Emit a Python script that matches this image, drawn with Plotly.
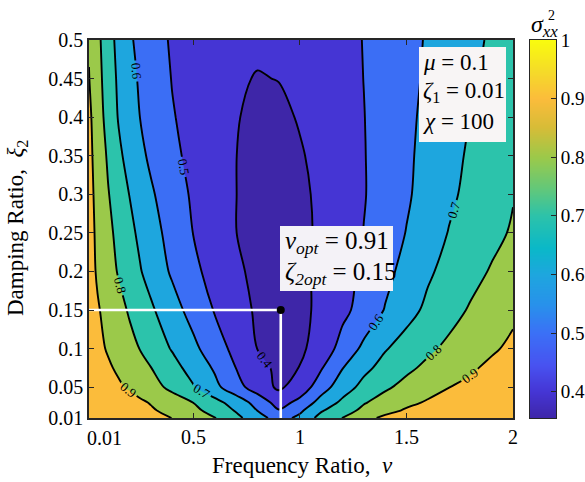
import plotly.graph_objects as go

FONT = "Liberation Serif"

# ---------------- data ----------------
nu = [0.01, 0.05, 0.1, 0.15, 0.2, 0.25, 0.3, 0.4, 0.5, 0.6, 0.7, 0.8, 0.9,
      1.0, 1.1, 1.2, 1.3, 1.4, 1.5, 1.6, 1.7, 1.8, 1.9, 2.0]
xi = [0.01, 0.02, 0.03, 0.05, 0.075, 0.1, 0.15, 0.2, 0.25, 0.3, 0.35, 0.4, 0.45, 0.5]

# sigma_xx^2, one row per damping ratio (xi), one column per frequency ratio (nu)
sigma_xi_001 = [0.99, 0.988, 0.983, 0.975, 0.965, 0.95, 0.935, 0.899, 0.852, 0.805, 0.727, 0.64, 0.56,
                0.624, 0.735, 0.802, 0.87, 0.92, 0.945, 0.96, 0.97, 0.978, 0.985, 0.99]
sigma_xi_002 = [0.985, 0.98, 0.97, 0.96, 0.945, 0.93, 0.912, 0.868, 0.823, 0.764, 0.691, 0.598, 0.505,
                0.58, 0.689, 0.76, 0.82, 0.87, 0.91, 0.935, 0.95, 0.96, 0.968, 0.975]
sigma_xi_003 = [0.98, 0.975, 0.965, 0.95, 0.935, 0.915, 0.894, 0.846, 0.799, 0.732, 0.656, 0.564, 0.46,
                0.529, 0.638, 0.72, 0.793, 0.8375, 0.879, 0.91, 0.93, 0.945, 0.955, 0.965]
sigma_xi_005 = [0.97, 0.953, 0.933, 0.912, 0.889, 0.862, 0.836, 0.777, 0.706, 0.626, 0.5385, 0.45, 0.385,
                0.44, 0.556, 0.654, 0.729, 0.786, 0.827, 0.864, 0.899, 0.92, 0.94, 0.96]
sigma_xi_0075 = [0.96, 0.939, 0.912, 0.885, 0.857, 0.83, 0.802, 0.734, 0.663, 0.588, 0.499, 0.43, 0.381,
                 0.402, 0.492, 0.597, 0.676, 0.733, 0.781, 0.82, 0.853, 0.887, 0.92, 0.953]
sigma_xi_010 = [0.95, 0.923, 0.891, 0.859, 0.828, 0.797, 0.762, 0.693, 0.622, 0.5465, 0.471, 0.399, 0.377,
                0.384, 0.438, 0.538, 0.62, 0.693, 0.739, 0.783, 0.82, 0.853, 0.887, 0.92]
sigma_xi_015 = [0.945, 0.909, 0.8685, 0.829, 0.79, 0.753, 0.715, 0.638, 0.564, 0.494, 0.429, 0.39, 0.375,
                0.383, 0.415, 0.475, 0.538, 0.605, 0.666, 0.72, 0.766, 0.809, 0.844, 0.88]
sigma_xi_020 = [0.94, 0.888, 0.839, 0.791, 0.749, 0.706, 0.665, 0.587, 0.521, 0.466, 0.416, 0.378, 0.366,
                0.38, 0.4185, 0.467, 0.518, 0.574, 0.63, 0.686, 0.73, 0.769, 0.808, 0.841]
sigma_xi_025 = [0.935, 0.881, 0.824, 0.772, 0.725, 0.68, 0.639, 0.565, 0.498, 0.45, 0.401, 0.368, 0.357,
                0.375, 0.417, 0.459, 0.502, 0.553, 0.603, 0.654, 0.704, 0.74, 0.775, 0.81]
sigma_xi_030 = [0.93, 0.873, 0.805, 0.751, 0.698, 0.656, 0.613, 0.545, 0.4865, 0.443, 0.401, 0.368, 0.362,
                0.38, 0.4195, 0.457, 0.495, 0.541, 0.588, 0.6355, 0.683, 0.723, 0.759, 0.795]
sigma_xi_035 = [0.925, 0.8625, 0.786, 0.718, 0.666, 0.621, 0.5835, 0.523, 0.472, 0.436, 0.401, 0.372, 0.37,
                0.392, 0.425, 0.461, 0.496, 0.54, 0.584, 0.628, 0.671, 0.713, 0.752, 0.79]
sigma_xi_040 = [0.92, 0.847, 0.763, 0.692, 0.646, 0.599, 0.569, 0.506, 0.47, 0.437, 0.405, 0.38, 0.38,
                0.407, 0.437, 0.468, 0.498, 0.539, 0.58, 0.621, 0.66, 0.701, 0.74, 0.779]
sigma_xi_045 = [0.903, 0.834, 0.752, 0.682, 0.631, 0.5875, 0.556, 0.497, 0.468, 0.438, 0.41, 0.396, 0.402,
                0.418, 0.44, 0.468, 0.501, 0.538, 0.576, 0.613, 0.65, 0.687, 0.723, 0.759]
sigma_xi_050 = [0.893, 0.825, 0.74, 0.67, 0.613, 0.576, 0.544, 0.489, 0.462, 0.436, 0.421, 0.415, 0.4175,
                0.4275, 0.445, 0.471, 0.503, 0.538, 0.573, 0.608, 0.642, 0.677, 0.712, 0.747]

sigma = [sigma_xi_001, sigma_xi_002, sigma_xi_003, sigma_xi_005, sigma_xi_0075, sigma_xi_010,
         sigma_xi_015, sigma_xi_020, sigma_xi_025, sigma_xi_030, sigma_xi_035, sigma_xi_040,
         sigma_xi_045, sigma_xi_050]

level_start, level_end, level_step = 0.4, 0.9, 0.1
band_colors = ["#3E26A8", "#4535D4", "#3B6EF5", "#1EA6DE", "#2CC3AB", "#9BC94A", "#FBBC3B"]

nu_opt, xi_opt = 0.91, 0.15
x_ticks = [0.5, 1, 1.5, 2]
x_ticktext = ["0.5", "1", "1.5", "2"]
first_x_label = "0.01"
first_x_label_pos = 0.085
y_ticks = [0.01, 0.05, 0.1, 0.15, 0.2, 0.25, 0.3, 0.35, 0.4, 0.45, 0.5]
y_ticktext = ["0.01", "0.05", "0.1", "0.15", "0.2", "0.25", "0.3", "0.35", "0.4", "0.45", "0.5"]
cb_ticks = [0.4, 0.5, 0.6, 0.7, 0.8, 0.9, 1.0]
cb_ticktext = ["0.4", "0.5", "0.6", "0.7", "0.8", "0.9", "1"]
c_min, c_max = 0.355, 1.0

parula = [
    [0.0, "rgb(62,38,168)"], [0.07, "rgb(69,53,212)"], [0.14, "rgb(72,82,240)"],
    [0.225, "rgb(59,112,246)"], [0.30, "rgb(40,145,235)"], [0.38, "rgb(30,166,222)"],
    [0.45, "rgb(10,184,200)"], [0.535, "rgb(44,194,170)"], [0.61, "rgb(100,200,120)"],
    [0.69, "rgb(155,201,74)"], [0.77, "rgb(215,188,55)"], [0.845, "rgb(251,188,59)"],
    [0.92, "rgb(245,220,40)"], [1.0, "rgb(249,251,14)"],
]

# stepped colorscale so that each filled band gets exactly its colour
nb = len(band_colors)
stepped = []
for k, c in enumerate(band_colors):
    lo = max(0.0, (k - 0.5) / (nb - 1))
    hi = min(1.0, (k + 0.5) / (nb - 1))
    stepped.append([lo, c])
    stepped.append([hi, c])

# ---------------- geometry (pixels) ----------------
W, H = 585, 482
L, R, T, B = 89, 0, 40, 64
AREA_W = W - L - R
PLOT_RIGHT = 513
CB_LEFT, CB_RIGHT = 530, 556


def px(xp):
    return (xp - L) / AREA_W


def py(yp):
    return (418 - yp) / (H - T - B)


# ---------------- figure ----------------
fig = go.Figure()

fig.add_trace(go.Contour(
    x=nu, y=xi, z=sigma,
    autocontour=False,
    contours=dict(start=level_start, end=level_end, size=level_step,
                  coloring="fill", showlabels=True, labelformat=".1f",
                  labelfont=dict(family=FONT, size=13, color="black")),
    line=dict(color="black", width=1.9, smoothing=1.0),
    colorscale=stepped, showscale=False, hoverinfo="skip",
))

x_lo = 0.01
y_lo = 0.01
fig.add_trace(go.Scatter(
    x=[x_lo, nu_opt, nu_opt], y=[xi_opt, xi_opt, y_lo], mode="lines",
    line=dict(color="white", width=2.6), hoverinfo="skip", showlegend=False,
))
fig.add_trace(go.Scatter(
    x=[nu_opt], y=[xi_opt], mode="markers",
    marker=dict(color="black", size=8), hoverinfo="skip", showlegend=False,
))

# colour bar drawn as a smoothed two-value heatmap on its own axes
fig.add_trace(go.Heatmap(
    x=[0, 1], y=[c_min, c_max], z=[[c_min, c_min], [c_max, c_max]],
    zmin=c_min, zmax=c_max, colorscale=parula, zsmooth="best",
    showscale=False, hoverinfo="skip", xaxis="x2", yaxis="y2",
))

axis_common = dict(showgrid=False, zeroline=False, ticks="inside", ticklen=5,
                   tickcolor="#262626", mirror="allticks", showline=True,
                   linecolor="#262626", linewidth=1.6, automargin=False,
                   tickfont=dict(family=FONT, size=20, color="black"))

fig.update_layout(
    width=W, height=H,
    margin=dict(l=L, r=R, t=T, b=B),
    paper_bgcolor="white", plot_bgcolor="white",
    font=dict(family=FONT, color="black"),
    xaxis=dict(domain=[0, px(PLOT_RIGHT)], range=[0.01, 2], tickvals=x_ticks,
               ticktext=x_ticktext, **axis_common),
    yaxis=dict(range=[0.01, 0.5], tickvals=y_ticks, ticktext=y_ticktext, **axis_common),
    xaxis2=dict(domain=[px(CB_LEFT), px(CB_RIGHT)], anchor="y2", range=[0, 1],
                showgrid=False, zeroline=False, showticklabels=False, ticks="",
                showline=True, mirror=True, linecolor="#262626", linewidth=1,
                automargin=False),
    yaxis2=dict(domain=[0, 1], anchor="x2", side="right", range=[c_min, c_max],
                tickvals=cb_ticks, ticktext=cb_ticktext, ticks="inside", ticklen=5,
                tickcolor="#262626", showgrid=False, zeroline=False,
                showline=True, mirror=True, linecolor="#262626", linewidth=1,
                automargin=False,
                tickfont=dict(family=FONT, size=19, color="black")),
    showlegend=False,
)

# text boxes
fig.add_shape(type="rect", xref="paper", yref="paper",
              x0=px(419), x1=px(506), y0=py(142), y1=py(47),
              fillcolor="#F8F5F5", line=dict(width=0), layer="above")
fig.add_shape(type="rect", xref="paper", yref="paper",
              x0=px(280), x1=px(393), y0=py(291), y1=py(226),
              fillcolor="#F4F2F7", line=dict(width=0), layer="above")

ann = []
box1 = [("<i>μ</i> = 0.1", 62), ("<i>ζ</i><sub>1</sub> = 0.01", 92), ("<i>χ</i> = 100", 121)]
for t, yp in box1:
    ann.append(dict(text=t, x=px(421), y=py(yp), xref="paper", yref="paper",
                    xanchor="left", yanchor="middle", showarrow=False,
                    font=dict(family=FONT, size=23, color="black")))
box2 = [(f"<i>v</i><sub><i>opt</i></sub> = {nu_opt}", 243),
        (f"<i>ζ</i><sub><i>2opt</i></sub> = {xi_opt}", 273)]
for t, yp in box2:
    ann.append(dict(text=t, x=px(283), y=py(yp), xref="paper", yref="paper",
                    xanchor="left", yanchor="middle", showarrow=False,
                    font=dict(family=FONT, size=25, color="black")))

# first x tick label
ann.append(dict(text=first_x_label, x=first_x_label_pos, y=py(438), xref="x", yref="paper",
                xanchor="center", yanchor="middle", showarrow=False,
                font=dict(family=FONT, size=20, color="black")))
# axis titles
ann.append(dict(text="Frequency Ratio,  <i>ν</i>", x=px(302), y=py(465), xref="paper", yref="paper",
                xanchor="center", yanchor="middle", showarrow=False,
                font=dict(family=FONT, size=23, color="black")))
ann.append(dict(text="Damping Ratio,  <i>ξ</i><sub>2</sub>", x=px(17), y=py(228), xref="paper", yref="paper",
                xanchor="center", yanchor="middle", showarrow=False, textangle=-90,
                font=dict(family=FONT, size=23, color="black")))
# colour bar title
ann.append(dict(text="<i>σ</i><sub><i>xx</i></sub>", x=px(544), y=py(26), xref="paper", yref="paper",
                xanchor="center", yanchor="middle", showarrow=False,
                font=dict(family=FONT, size=24, color="black")))
ann.append(dict(text="2", x=px(551), y=py(15), xref="paper", yref="paper",
                xanchor="center", yanchor="middle", showarrow=False,
                font=dict(family=FONT, size=14, color="black")))

fig.update_layout(annotations=ann)

fig.write_html("out.html")
